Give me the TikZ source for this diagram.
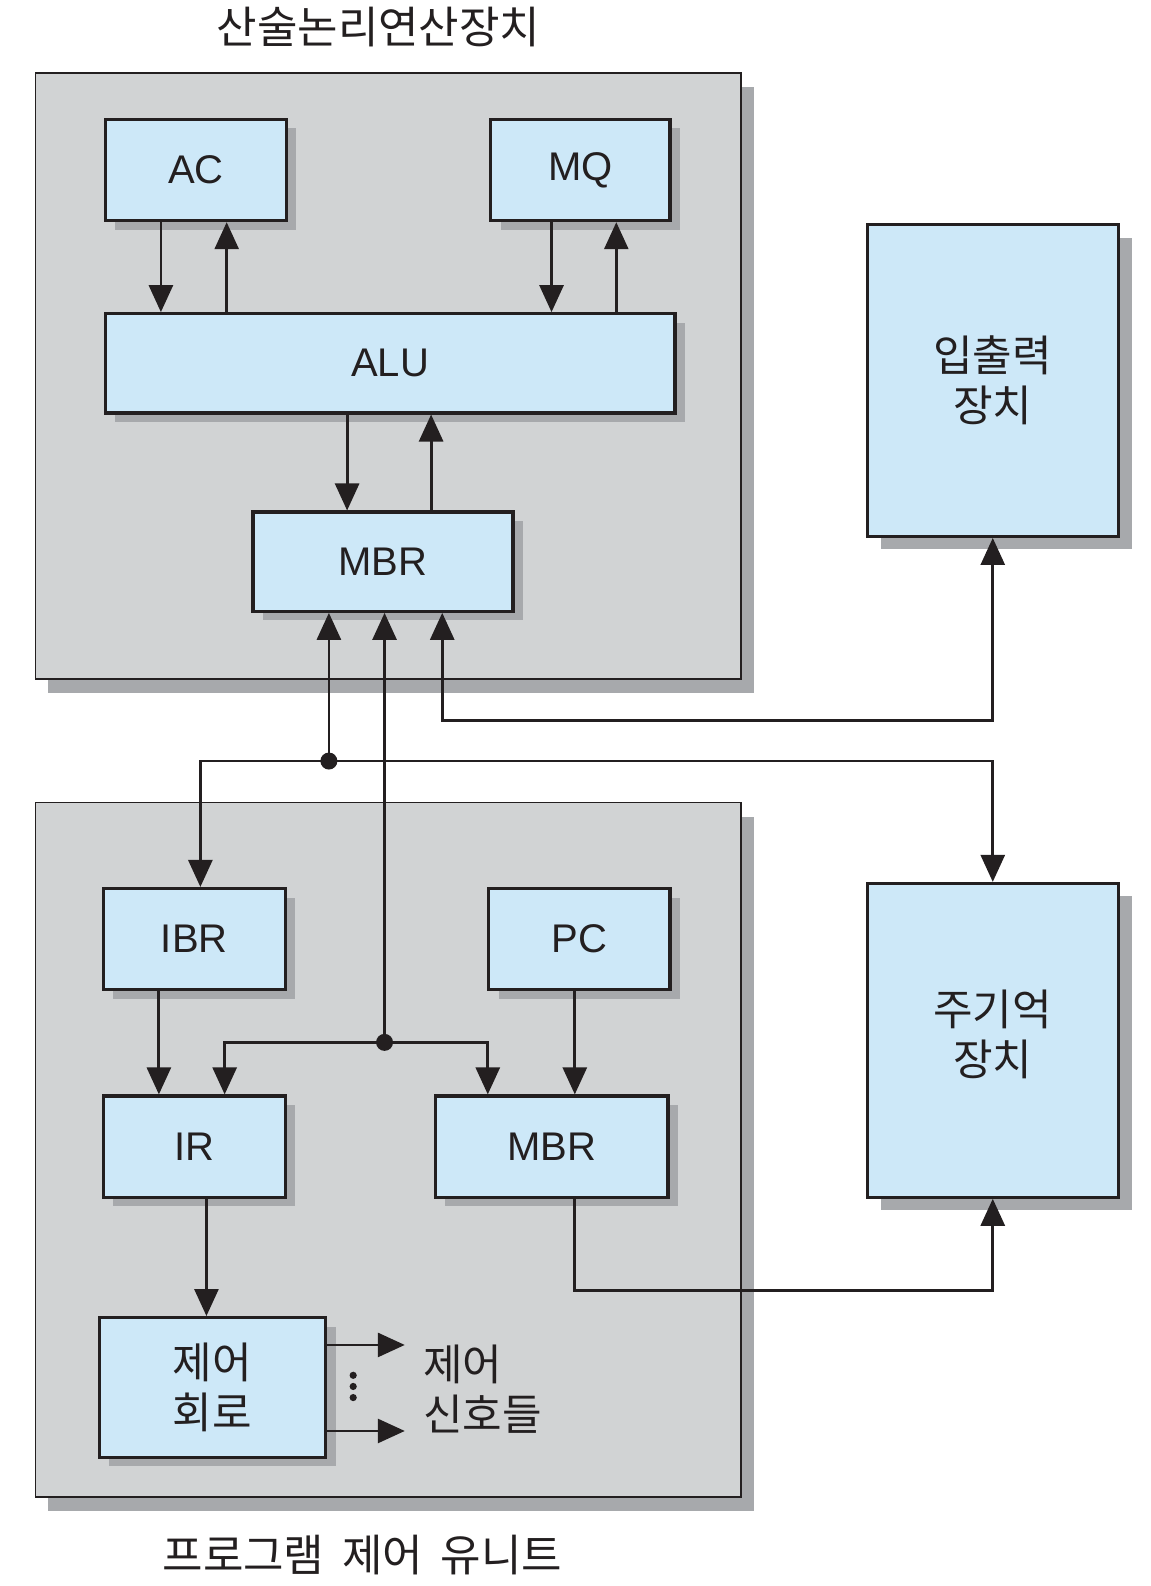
\documentclass[tikz,border=0pt]{standalone}
\usepackage{fontspec}
\setmainfont{Liberation Sans}
\newfontfamily\kr{Noto Sans CJK KR}
\usetikzlibrary{arrows.meta,fit,shadows}
\definecolor{boxblue}{HTML}{CDE8F8}
\definecolor{panelgray}{HTML}{D1D3D4}
\definecolor{shadegray}{HTML}{A7A9AC}
\definecolor{inkc}{HTML}{231F20}
\tikzset{
  regbase/.style={draw=inkc, line width=1.6pt, fill=boxblue, inner sep=0pt},
  reg/.style={regbase, drop shadow={shadow xshift=5pt, shadow yshift=-4.5pt, fill=shadegray, opacity=1}},
  bigreg/.style={regbase, drop shadow={shadow xshift=7pt, shadow yshift=-6.5pt, fill=shadegray, opacity=1}},
  panel/.style={draw=inkc, line width=0.8pt, fill=panelgray, inner sep=0pt,
    drop shadow={shadow xshift=6.5pt, shadow yshift=-7pt, fill=shadegray, opacity=1}},
  lattxt/.style={text=inkc, font=\fontsize{20}{25}\selectfont, inner sep=0pt},
  krtxt/.style={text=inkc, font=\kr\fontsize{21.5}{25}\selectfont, align=center, inner sep=0pt},
  arr/.style={draw=inkc, line width=1.4pt, -{Triangle[length=13.5pt,width=12pt]}},
  darr/.style={draw=inkc, line width=1.4pt, {Triangle[length=13.5pt,width=12pt]}-{Triangle[length=13.5pt,width=12pt]}},
  jdot/.style={circle, fill=inkc, inner sep=0pt, minimum size=8.5pt},
  sdot/.style={circle, fill=inkc, inner sep=0pt, minimum size=3.6pt},
  lbl/.style={text=inkc, font=\kr\fontsize{22}{25}\selectfont, align=center, inner sep=0pt}
}
\begin{document}
\begin{tikzpicture}[x=0.506pt,y=-0.506pt]
\useasboundingbox (0,0) rectangle (1136.4,1567.2);

% panels
\node[panel, fit={(35,72)(732,671)}] (alupanel) {};
\node[panel, fit={(35,793)(732,1479)}] (pcupanel) {};
\node[lbl] (talu) at (374,27) {산술논리연산장치};
\node[lbl] (tpcu) at (358,1537) {프로그램\hspace{0.4em}제어\hspace{0.4em}유니트};

% registers
\node[reg, fit={(104,118)(283,218)}] (ac) {};
\node[reg, fit={(485,118)(662,218)}] (mq) {};
\node[reg, fit={(104,310)(667,408)}] (alu) {};
\node[reg, fit={(250,506)(507,604)}] (mbra) {};
\node[bigreg, fit={(857,222)(1105,530)}] (io) {};
\node[reg, fit={(102,878)(282,978)}] (ibr) {};
\node[reg, fit={(483,878)(662,978)}] (pc) {};
\node[reg, fit={(102,1083)(282,1183)}] (ir) {};
\node[reg, fit={(430,1083)(660,1183)}] (mbrb) {};
\node[reg, fit={(98,1302)(322,1440)}] (ctrl) {};
\node[bigreg, fit={(857,873)(1105,1183)}] (mem) {};

\node[lattxt] (acl) at (ac.center) {AC};
\node[lattxt] (mql) at (mq.center) {MQ};
\node[lattxt] (alul) at (alu.center) {ALU};
\node[lattxt] (mbral) at (mbra.center) {MBR};
\node[krtxt] (iol) at (io.center) {입출력\\장치};
\node[lattxt] (ibrl) at (ibr.center) {IBR};
\node[lattxt] (pcl) at (pc.center) {PC};
\node[lattxt] (irl) at (ir.center) {IR};
\node[lattxt] (mbrbl) at (mbrb.center) {MBR};
\node[krtxt] (ctrll) at (ctrl.center) {제어\\회로};
\node[krtxt] (meml) at ([yshift=3pt]mem.center) {주기억\\장치};
\node[krtxt, anchor=west, align=left] (sig) at (418,1373) {제어\\신호들};

% x positions and junctions
\coordinate (cA1) at (159,0);
\coordinate (cA2) at (224,0);
\coordinate (cM1) at (545,0);
\coordinate (cM2) at (609,0);
\coordinate (cB1) at (343,0);
\coordinate (cB2) at (426,0);
\coordinate (ibrx) at (198,0);
\coordinate (irx) at (222,0);
\coordinate (mbrbx) at (482,0);
\coordinate (ibrirx) at (157,0);
\coordinate (pcx) at (568,0);
\coordinate (irx2) at (204,0);
\coordinate (j1) at (325,752);
\coordinate (j2) at (380,1030);
\coordinate (t1) at (437,712);
\coordinate (t2) at (568,1275);
\coordinate (o1) at (400,1329);
\coordinate (o2) at (400,1414);

% ALU section
\draw[arr] (ac.south -| cA1) -- (alu.north -| cA1);
\draw[arr] (alu.north -| cA2) -- (ac.south -| cA2);
\draw[arr] (mq.south -| cM1) -- (alu.north -| cM1);
\draw[arr] (alu.north -| cM2) -- (mq.south -| cM2);
\draw[arr] (alu.south -| cB1) -- (mbra.north -| cB1);
\draw[arr] (mbra.north -| cB2) -- (alu.south -| cB2);

% bus
\draw[arr] (j1) -- (mbra.south -| j1);
\draw[arr] (j1) -| (ibr.north -| ibrx);
\draw[arr] (j1) -| (mem.north);
\node[jdot] (j1d) at (j1) {};
\draw[darr] (mbra.south -| t1) -- (t1) -| (io.south);

% program control unit
\draw[arr] (j2) -- (mbra.south -| j2);
\draw[arr] (j2) -| (ir.north -| irx);
\draw[arr] (j2) -| (mbrb.north -| mbrbx);
\node[jdot] (j2d) at (j2) {};
\draw[arr] (ibr.south -| ibrirx) -- (ir.north -| ibrirx);
\draw[arr] (pc.south -| pcx) -- (mbrb.north -| pcx);
\draw[arr] (mbrb.south -| t2) -- (t2) -| (mem.south);
\draw[arr] (ir.south -| irx2) -- (ctrl.north -| irx2);
\draw[arr] (ctrl.east |- o1) -- (o1);
\draw[arr] (ctrl.east |- o2) -- (o2);
\node[sdot] (d1) at (349,1359) {};
\node[sdot] (d2) at (349,1370) {};
\node[sdot] (d3) at (349,1381) {};
\end{tikzpicture}
\end{document}
